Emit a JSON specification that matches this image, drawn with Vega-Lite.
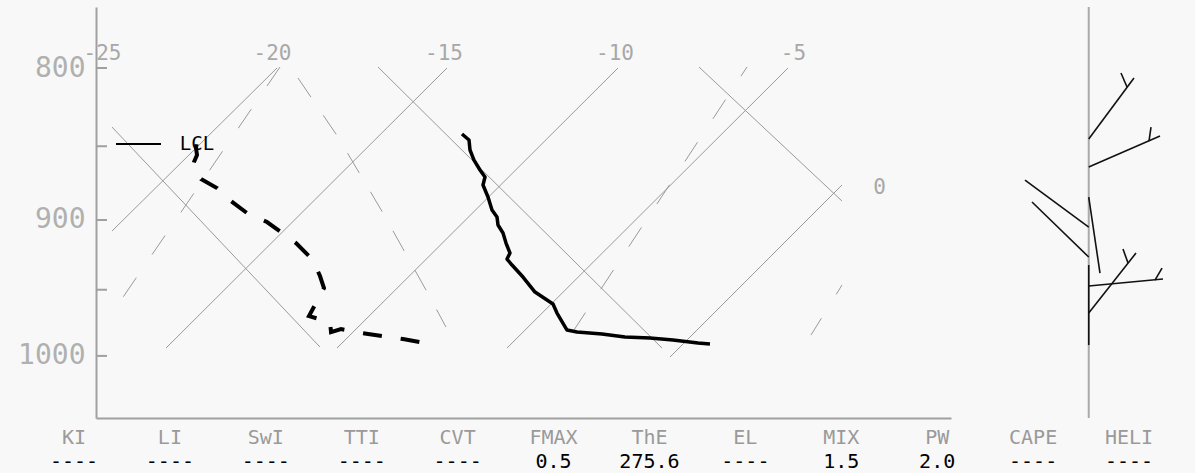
{
  "$schema": "https://vega.github.io/schema/vega-lite/v6.json",
  "width": 855,
  "height": 411,
  "autosize": {"type": "none"},
  "padding": {"left": 96, "top": 7, "right": 244, "bottom": 55},
  "background": "#f8f8f8",
  "config": {"view": {"stroke": null}, "text": {"font": "DejaVu Sans Mono"}},
  "datasets": {
    "seg": [
      {"id": "T-20", "X": -24.824, "P": 907.75, "X2": -19.985, "P2": 800},
      {"id": "T-15", "X": -23.24, "P": 993.93, "X2": -15.0, "P2": 800},
      {"id": "T-10", "X": -18.225, "P": 993.93, "X2": -9.985, "P2": 800},
      {"id": "T-5", "X": -13.24, "P": 993.93, "X2": -4.999, "P2": 800},
      {"id": "T0", "X": -8.46, "P": 1000.89, "X2": -3.416, "P2": 875.95},
      {"id": "thA", "X": -24.824, "P": 837.44, "X2": -18.724, "P2": 993.16},
      {"id": "thB", "X": -17.023, "P": 799.38, "X2": -8.695, "P2": 993.93},
      {"id": "thC", "X": -7.609, "P": 799.38, "X2": -3.416, "P2": 886.88}
    ],
    "yticks": [
      {"X": -25.293, "X2": -24.97, "P": 800},
      {"X": -25.293, "X2": -24.97, "P": 850},
      {"X": -25.293, "X2": -24.97, "P": 900},
      {"X": -25.293, "X2": -24.97, "P": 950},
      {"X": -25.293, "X2": -24.97, "P": 1000}
    ],
    "mixA": [
      {"id": "W2", "X": -19.897, "P": 799.38, "X2": -24.618, "P2": 959.85}
    ],
    "mixB": [
      {"id": "W1", "X": -6.202, "P": 799.38, "X2": -11.334, "P2": 982.44},
      {"id": "W3", "X": -3.416, "P": 946.55, "X2": -4.325, "P2": 983.96}
    ],
    "moist": [
      {"i": 0, "X": -19.369, "P": 806.23},
      {"i": 1, "X": -18.196, "P": 843.96},
      {"i": 2, "X": -16.876, "P": 895.17},
      {"i": 3, "X": -15.615, "P": 950.23},
      {"i": 4, "X": -15.029, "P": 977.88}
    ],
    "temp": [
      {"i": 0, "X": -14.56, "P": 842.0},
      {"i": 1, "X": -14.354, "P": 845.92},
      {"i": 2, "X": -14.325, "P": 852.5},
      {"i": 3, "X": -14.208, "P": 859.14},
      {"i": 4, "X": -14.032, "P": 865.82},
      {"i": 5, "X": -13.885, "P": 870.54},
      {"i": 6, "X": -13.944, "P": 875.95},
      {"i": 7, "X": -13.797, "P": 884.14},
      {"i": 8, "X": -13.68, "P": 893.09},
      {"i": 9, "X": -13.533, "P": 897.95},
      {"i": 10, "X": -13.504, "P": 903.54},
      {"i": 11, "X": -13.357, "P": 909.16},
      {"i": 12, "X": -13.269, "P": 916.23},
      {"i": 13, "X": -13.152, "P": 923.36},
      {"i": 14, "X": -13.24, "P": 927.67},
      {"i": 15, "X": -13.093, "P": 931.99},
      {"i": 16, "X": -12.771, "P": 940.7},
      {"i": 17, "X": -12.419, "P": 951.7},
      {"i": 18, "X": -12.067, "P": 957.63},
      {"i": 19, "X": -11.891, "P": 960.6},
      {"i": 20, "X": -11.774, "P": 967.32},
      {"i": 21, "X": -11.48, "P": 980.16},
      {"i": 22, "X": -11.187, "P": 981.68},
      {"i": 23, "X": -10.454, "P": 983.2},
      {"i": 24, "X": -9.78, "P": 985.49},
      {"i": 25, "X": -9.046, "P": 986.25},
      {"i": 26, "X": -8.372, "P": 987.78},
      {"i": 27, "X": -7.639, "P": 990.08},
      {"i": 28, "X": -7.287, "P": 990.85}
    ],
    "dew": [
      {"i": 0, "X": -22.272, "P": 841.34},
      {"i": 1, "X": -22.331, "P": 846.58},
      {"i": 2, "X": -22.36, "P": 851.18},
      {"i": 3, "X": -22.331, "P": 855.81},
      {"i": 4, "X": -22.419, "P": 860.47},
      {"i": 5, "X": -22.448, "P": 863.81},
      {"i": 6, "X": -22.214, "P": 871.89},
      {"i": 7, "X": -21.745, "P": 877.99},
      {"i": 8, "X": -21.334, "P": 886.88},
      {"i": 9, "X": -20.865, "P": 895.17},
      {"i": 10, "X": -20.278, "P": 901.44},
      {"i": 11, "X": -19.868, "P": 908.45},
      {"i": 12, "X": -19.428, "P": 916.23},
      {"i": 13, "X": -18.929, "P": 928.39},
      {"i": 14, "X": -18.724, "P": 939.97},
      {"i": 15, "X": -18.607, "P": 948.76},
      {"i": 16, "X": -19.047, "P": 969.58},
      {"i": 17, "X": -18.431, "P": 974.1},
      {"i": 18, "X": -18.401, "P": 981.72},
      {"i": 19, "X": -18.108, "P": 979.4},
      {"i": 20, "X": -17.492, "P": 982.44},
      {"i": 21, "X": -16.906, "P": 984.73},
      {"i": 22, "X": -16.29, "P": 987.02},
      {"i": 23, "X": -15.645, "P": 990.08}
    ],
    "lcl": [
      {"X": -24.706, "P": 848.55, "X2": -23.387, "P2": 848.55, "label": "LCL", "LX": -22.331}
    ],
    "tlab": [
      {"t": "-25", "X": -25.102, "P": 791.06},
      {"t": "-20", "X": -20.117, "P": 791.06},
      {"t": "-15", "X": -15.088, "P": 791.06},
      {"t": "-10", "X": -10.073, "P": 791.06},
      {"t": "-5", "X": -4.838, "P": 791.06},
      {"t": "0", "X": -2.316, "P": 878.0}
    ],
    "staff": [
      {"X": 3.82, "P": 763.05, "X2": 3.82, "P2": 1049.3}
    ],
    "barb": [
      {"id": "B1", "X": 3.82, "P": 845.27, "X2": 5.147, "P2": 806.23},
      {"id": "B1f", "X": 4.942, "P": 811.87, "X2": 4.766, "P2": 803.11},
      {"id": "B2", "X": 3.82, "P": 863.81, "X2": 5.91, "P2": 843.3},
      {"id": "B2f", "X": 5.587, "P": 846.58, "X2": 5.646, "P2": 837.44},
      {"id": "B3", "X": 3.82, "P": 904.94, "X2": 1.951, "P2": 872.56},
      {"id": "B4", "X": 3.82, "P": 926.23, "X2": 2.156, "P2": 887.57},
      {"id": "B5", "X": 3.82, "P": 884.14, "X2": 4.15, "P2": 937.79},
      {"id": "B6", "X": 3.82, "P": 931.99, "X2": 3.82, "P2": 991.62},
      {"id": "B7", "X": 3.82, "P": 947.29, "X2": 5.998, "P2": 942.16},
      {"id": "B7f", "X": 5.763, "P": 942.89, "X2": 5.969, "P2": 934.16},
      {"id": "B8", "X": 3.82, "P": 967.32, "X2": 5.206, "P2": 923.36},
      {"id": "B8f", "X": 4.972, "P": 930.55, "X2": 4.825, "P2": 920.5}
    ],
    "table": [
      {"name": "KI", "value": "----"},
      {"name": "LI", "value": "----"},
      {"name": "SwI", "value": "----"},
      {"name": "TTI", "value": "----"},
      {"name": "CVT", "value": "----"},
      {"name": "FMAX", "value": "0.5"},
      {"name": "ThE", "value": "275.6"},
      {"name": "EL", "value": "----"},
      {"name": "MIX", "value": "1.5"},
      {"name": "PW", "value": "2.0"},
      {"name": "CAPE", "value": "----"},
      {"name": "HELI", "value": "----"}
    ]
  },
  "layer": [
    {
      "encoding": {
        "x": {
          "field": "X", "type": "quantitative",
          "scale": {"domain": [-25.293, -0.2193], "nice": false, "zero": false},
          "axis": {"domain": true, "domainColor": "#a0a0a0", "domainWidth": 2, "ticks": false, "labels": false, "grid": false, "title": null}
        },
        "y": {
          "field": "P", "type": "quantitative",
          "scale": {"type": "log", "domain": [763.05, 1049.3], "reverse": true, "nice": false, "zero": false},
          "axis": {
            "values": [800, 850, 900, 950, 1000],
            "format": "d",
            "labelExpr": "datum.value % 100 == 0 ? datum.label : ''",
            "ticks": false,
            "labelPadding": 11,
            "domainColor": "#a0a0a0", "domainWidth": 2,
            "labelFont": "DejaVu Sans Mono", "labelFontSize": 28, "labelColor": "#b0b0b0",
            "labelBaseline": "middle",
            "grid": false, "title": null
          }
        }
      },
      "layer": [
        {"data": {"name": "seg"}, "mark": {"type": "rule", "color": "#9a9a9a", "strokeWidth": 1}, "encoding": {"x2": {"field": "X2"}, "y2": {"field": "P2"}}},
        {"data": {"name": "yticks"}, "mark": {"type": "rule", "color": "#a0a0a0", "strokeWidth": 2}, "encoding": {"x2": {"field": "X2"}}},
        {"data": {"name": "mixA"}, "mark": {"type": "rule", "color": "#9a9a9a", "strokeWidth": 1, "strokeDash": [23, 28], "strokeDashOffset": 0}, "encoding": {"x2": {"field": "X2"}, "y2": {"field": "P2"}}},
        {"data": {"name": "mixB"}, "mark": {"type": "rule", "color": "#9a9a9a", "strokeWidth": 1, "strokeDash": [23, 28], "strokeDashOffset": 12}, "encoding": {"x2": {"field": "X2"}, "y2": {"field": "P2"}}},
        {"data": {"name": "moist"}, "mark": {"type": "line", "color": "#9a9a9a", "strokeWidth": 1, "strokeDash": [23, 22]}, "encoding": {"order": {"field": "i", "type": "quantitative"}}},
        {"data": {"name": "tlab"}, "mark": {"type": "text", "fontSize": 21, "color": "#a8a8a8", "align": "center", "baseline": "middle"}, "encoding": {"text": {"field": "t"}}},
        {"data": {"name": "temp"}, "mark": {"type": "line", "color": "#000000", "strokeWidth": 3.5, "strokeJoin": "round"}, "encoding": {"order": {"field": "i", "type": "quantitative"}}},
        {"data": {"name": "dew"}, "mark": {"type": "line", "color": "#000000", "strokeWidth": 4, "strokeDash": [19, 19], "strokeDashOffset": 26.5, "strokeCap": "butt"}, "encoding": {"order": {"field": "i", "type": "quantitative"}}},
        {"data": {"name": "lcl"}, "mark": {"type": "rule", "color": "#000000", "strokeWidth": 2}, "encoding": {"x2": {"field": "X2"}, "y2": {"field": "P2"}}},
        {"data": {"name": "lcl"}, "mark": {"type": "text", "fontSize": 19, "color": "#000000", "align": "center", "baseline": "middle"}, "encoding": {"x": {"field": "LX", "type": "quantitative"}, "text": {"field": "label"}}},
        {"data": {"name": "staff"}, "mark": {"type": "rule", "color": "#aaaaaa", "strokeWidth": 2}, "encoding": {"x2": {"field": "X2"}, "y2": {"field": "P2"}}},
        {"data": {"name": "barb"}, "mark": {"type": "rule", "color": "#111111", "strokeWidth": 1.6}, "encoding": {"x2": {"field": "X2"}, "y2": {"field": "P2"}}}
      ]
    },
    {
      "data": {"name": "table"},
      "encoding": {
        "x": {"field": "name", "type": "ordinal", "sort": null,
          "scale": {"type": "point", "domain": ["KI", "LI", "SwI", "TTI", "CVT", "FMAX", "ThE", "EL", "MIX", "PW", "CAPE", "HELI"], "range": [-22, 1033], "padding": 0},
          "axis": null}
      },
      "layer": [
        {"mark": {"type": "text", "fontSize": 20, "color": "#9a9a9a", "align": "center", "baseline": "middle"},
         "encoding": {"text": {"field": "name"}, "y": {"datum": "name", "type": "ordinal", "scale": {"type": "point", "domain": ["name", "value"], "range": [430.5, 455], "padding": 0}, "axis": null}}},
        {"mark": {"type": "text", "fontSize": 20, "color": "#000000", "align": "center", "baseline": "middle"},
         "encoding": {"text": {"field": "value"}, "y": {"datum": "value", "type": "ordinal", "axis": null}}}
      ]
    }
  ],
  "resolve": {"scale": {"x": "independent", "y": "independent"}}
}
